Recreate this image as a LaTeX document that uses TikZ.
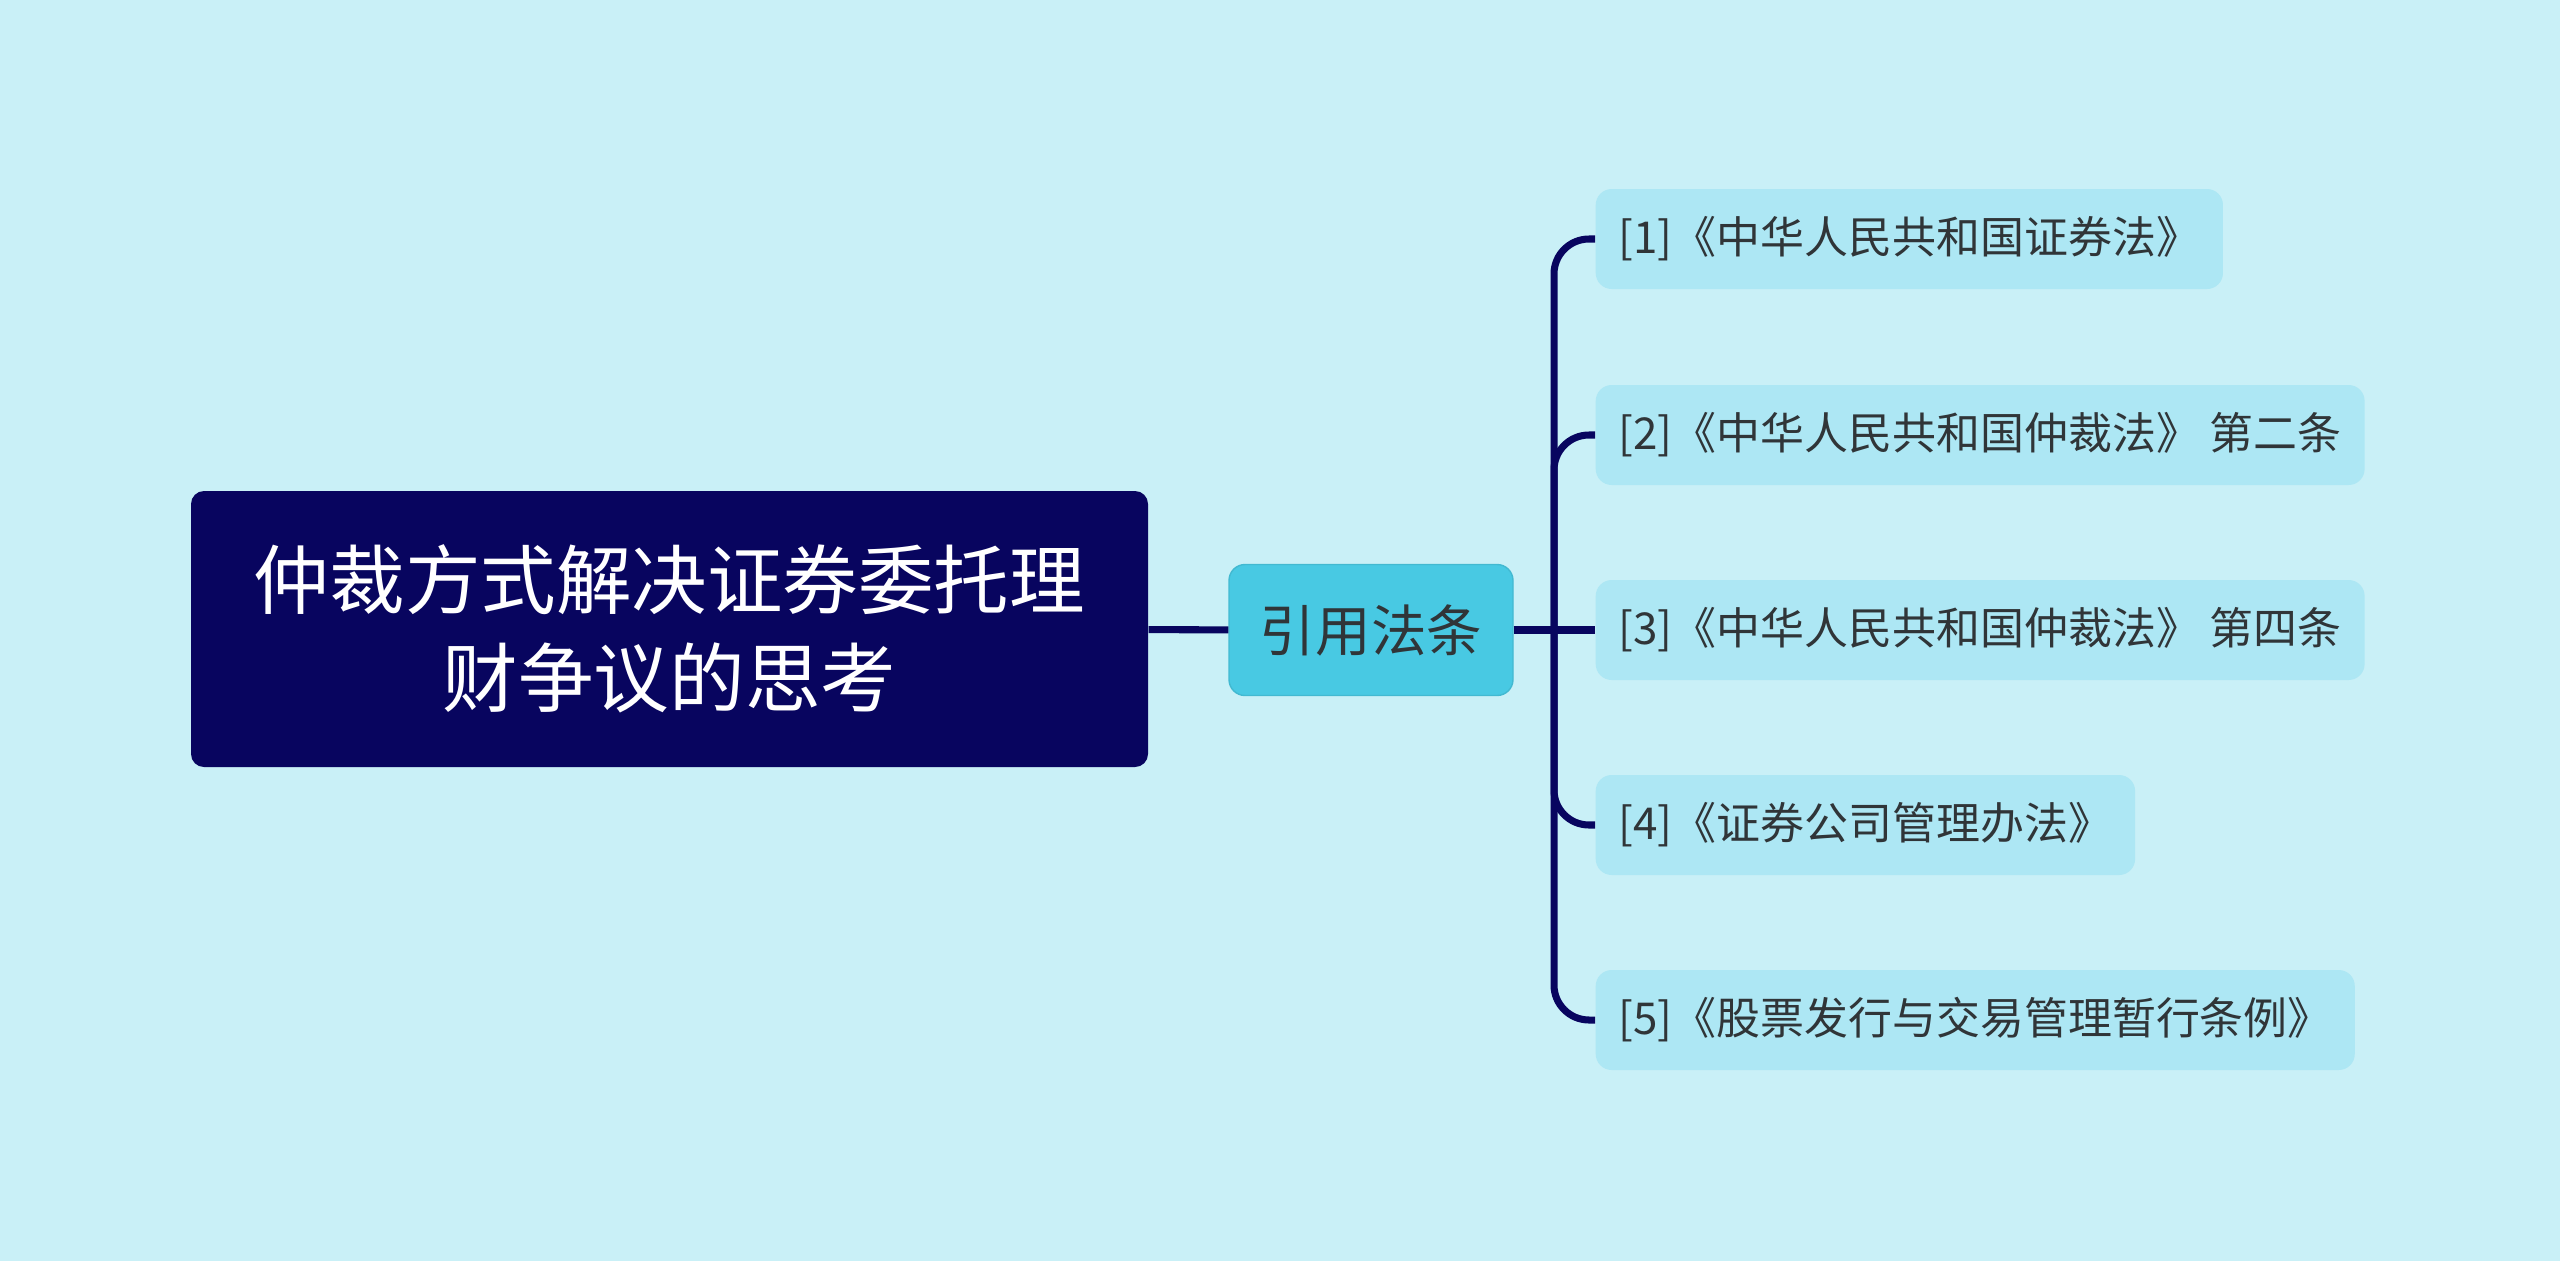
\documentclass[tikz,border=0pt]{standalone}
\usepackage{fontspec}
\usepackage{xcolor}
\usepackage{tikz}
\usetikzlibrary{positioning}
\newfontfamily\cjk{Noto Sans CJK SC}
\definecolor{bgcyan}{HTML}{C9F0F7}
\definecolor{darknavy}{HTML}{08055F}
\definecolor{midcyan}{HTML}{48C9E3}
\definecolor{lightcyan}{HTML}{ADE7F4}
\definecolor{darkgray}{HTML}{303538}
\tikzset {
  % central topic
  root/.style = {fill=darknavy, rounded corners=0.13cm, text=white,
    font=\cjk\fontsize{21.5}{28}\selectfont, align=center,
    minimum width=9.57cm, minimum height=2.76cm},
  % second level
  sub/.style = {fill=midcyan, draw=midcyan!92!black, rounded corners=0.16cm,
    text=darkgray, font=\cjk\fontsize{15.8}{19}\selectfont,
    minimum width=2.84cm, minimum height=1.31cm},
  % cited laws
  leaf/.style = {fill=lightcyan, rounded corners=0.16cm, anchor=west,
    text=darkgray, font=\cjk\fontsize{12.5}{15}\selectfont,
    inner xsep=0.23cm, minimum height=1.0cm},
  % connectors
  link/.style = {darknavy, line width=2pt},
}

\begin{document}
\begin{tikzpicture}
      \fill[bgcyan] (0, 0) rectangle (25.6, -12.61);
      \useasboundingbox (0, 0) rectangle (25.6, -12.61);

      \node[root] (0) at (6.695, -6.29) {仲裁方式解决证券委托理\\财争议的思考};
      \node[sub] (m) at (13.71, -6.30) {引用法条};

      \node[leaf] (1) at (15.95, -2.39) {[1]《中华人民共和国证券法》};
      \node[leaf] (2) at (15.95, -4.35) {[2]《中华人民共和国仲裁法》 第二条};
      \node[leaf] (3) at (15.95, -6.30) {[3]《中华人民共和国仲裁法》 第四条};
      \node[leaf] (4) at (15.95, -8.25) {[4]《证券公司管理办法》};
      \node[leaf] (5) at (15.95, -10.20) {[5]《股票发行与交易管理暂行条例》};

      \coordinate (fork) at (15.54, -6.30);

      \draw [link] (0) -- (m);
      \draw [link] (m) -- (fork);
      \draw [link, rounded corners=0.35cm] (fork) |- (1.west);
      \draw [link, rounded corners=0.35cm] (fork) |- (2.west);
      \draw [link] (fork) -- (3.west);
      \draw [link, rounded corners=0.35cm] (fork) |- (4.west);
      \draw [link, rounded corners=0.35cm] (fork) |- (5.west);
    \end{tikzpicture}
\end{document}
